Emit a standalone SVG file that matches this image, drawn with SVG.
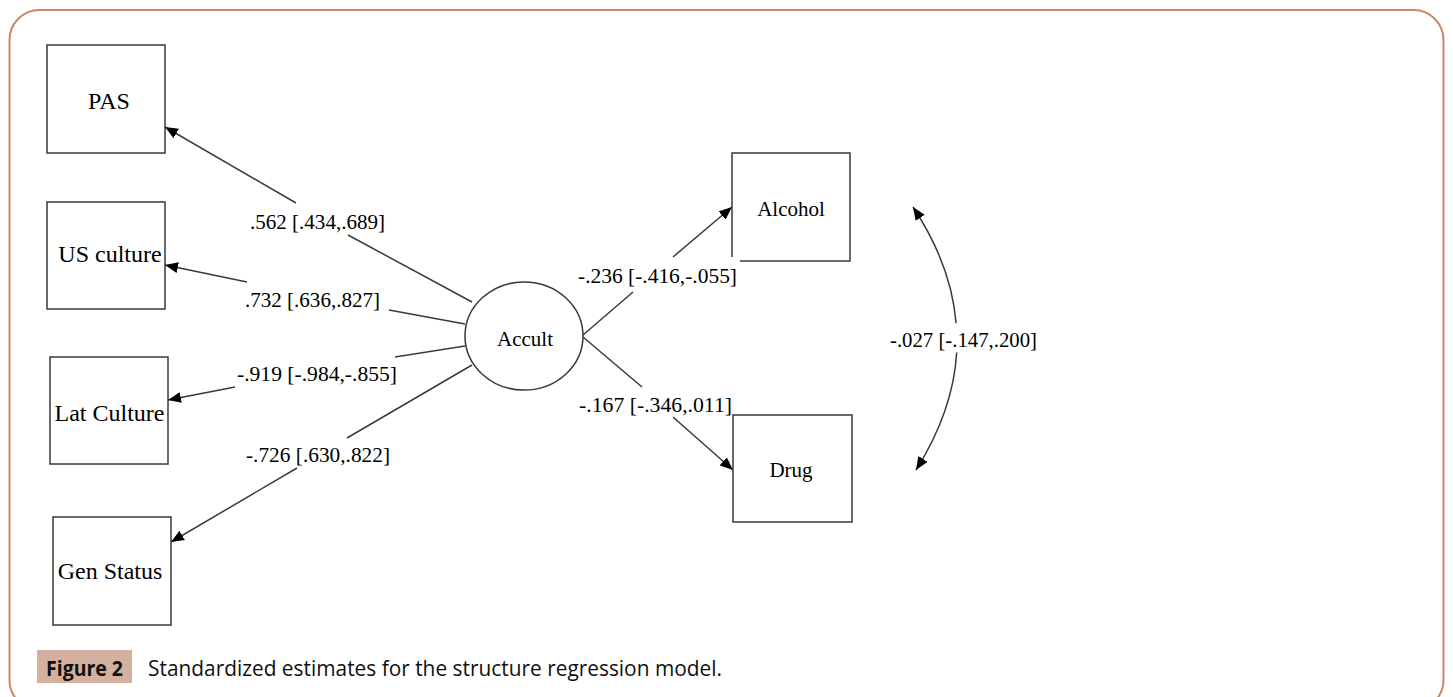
<svg xmlns="http://www.w3.org/2000/svg" width="1453" height="697" viewBox="0 0 1453 697">
<style>
.box{fill:#fff;stroke:#383838;stroke-width:1.5}
.nt{font-family:"Liberation Serif","Times New Roman",serif;fill:#000;text-anchor:middle}
.big{font-size:24px}
.sm{font-size:21px}
.lbl{font-family:"Liberation Serif","Times New Roman",serif;font-size:21px;fill:#000}
.edge{fill:none;stroke:#3a3a3a;stroke-width:1.5}
.cap{font-family:"Open Sans","Liberation Sans",sans-serif;font-size:21px;fill:#111}
</style>
<defs>
<marker id="ah" viewBox="0 0 12 10" refX="12" refY="5" markerUnits="userSpaceOnUse" markerWidth="13" markerHeight="11" orient="auto-start-reverse">
<path d="M0,0 L12,5 L0,10 z" fill="#000"/>
</marker>
</defs>
<rect x="0" y="0" width="1453" height="697" fill="#fff"/>
<rect x="9.5" y="10" width="1434" height="700" rx="30" ry="30" fill="none" stroke="#c8876a" stroke-width="2"/>

<g id="connectors">
<path class="edge" d="M472,302 L348,235 M296,203 L165,127" marker-end="url(#ah)"/>
<path class="edge" d="M465,324 L389,310 M247,282 L165,265" marker-end="url(#ah)"/>
<path class="edge" d="M465,346 L395,357 M235,387 L168,400" marker-end="url(#ah)"/>
<path class="edge" d="M472,365 L347,438 M297,468 L171,542" marker-end="url(#ah)"/>
<path class="edge" d="M583,335 L633,292 M673,257 L732,207" marker-end="url(#ah)"/>
<path class="edge" d="M583,337 L642,387 M673,417 L733,470" marker-end="url(#ah)"/>
<path class="edge" d="M913,207 Q951.4,265 956.1,323.3 M956.7,352.5 Q953.2,411.1 916,470" marker-start="url(#ah)" marker-end="url(#ah)"/>
<text class="lbl" x="250" y="229" textLength="135" lengthAdjust="spacingAndGlyphs">.562 [.434,.689]</text>
<text class="lbl" x="245" y="307" textLength="135" lengthAdjust="spacingAndGlyphs">.732 [.636,.827]</text>
<text class="lbl" x="237" y="381" textLength="160" lengthAdjust="spacingAndGlyphs">-.919 [-.984,-.855]</text>
<text class="lbl" x="246" y="462" textLength="144" lengthAdjust="spacingAndGlyphs">-.726 [.630,.822]</text>
<text class="lbl" x="578" y="283" textLength="159" lengthAdjust="spacingAndGlyphs">-.236 [-.416,-.055]</text>
<text class="lbl" x="579" y="412" textLength="153" lengthAdjust="spacingAndGlyphs">-.167 [-.346,.011]</text>
<text class="lbl" x="890" y="347" textLength="147" lengthAdjust="spacingAndGlyphs">-.027 [-.147,.200]</text>
</g>

<g id="node-pas">
<rect class="box" x="47" y="45" width="118" height="108"/>
<text class="nt big" x="109" y="109">PAS</text>
</g>
<g id="node-us">
<rect class="box" x="47" y="202" width="118" height="107"/>
<text class="nt big" x="110" y="262">US culture</text>
</g>
<g id="node-lat">
<rect class="box" x="50" y="357" width="118" height="107"/>
<text class="nt big" x="109.5" y="421">Lat Culture</text>
</g>
<g id="node-gen">
<rect class="box" x="53" y="517" width="118" height="108"/>
<text class="nt big" x="110" y="579">Gen Status</text>
</g>
<g id="node-accult">
<ellipse class="box" cx="524" cy="336" rx="59" ry="54"/>
<text class="nt sm" x="525" y="346">Accult</text>
</g>
<g id="node-alcohol">
<path class="box" d="M732,257 V153 H850 V261 H740" fill="#fff"/>
<text class="nt sm" x="791" y="216">Alcohol</text>
</g>
<g id="node-drug">
<rect class="box" x="733" y="415" width="119" height="107"/>
<text class="nt sm" x="791" y="477">Drug</text>
</g>

<g id="caption">
<rect x="37" y="650" width="95" height="33" fill="#d4b09e"/>
<text class="cap" x="46" y="676" font-weight="bold" textLength="77" lengthAdjust="spacingAndGlyphs">Figure 2</text>
<text class="cap" x="148" y="676" textLength="574" lengthAdjust="spacingAndGlyphs">Standardized estimates for the structure regression model.</text>
</g>
</svg>
